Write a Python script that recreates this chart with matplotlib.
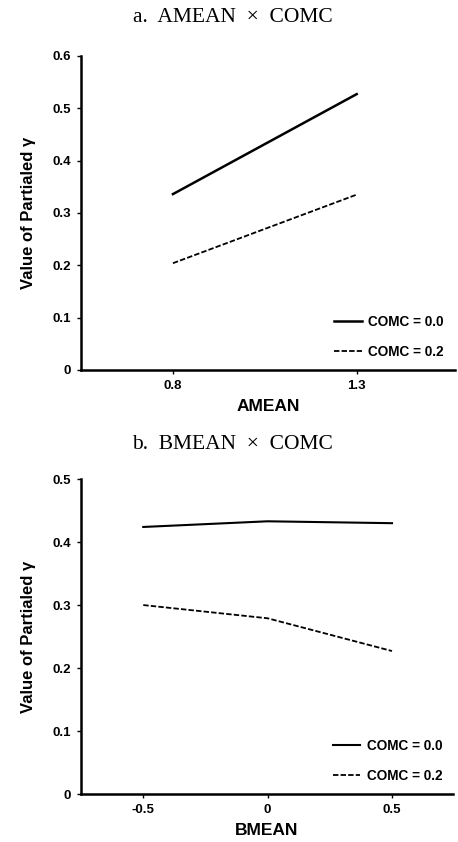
import matplotlib
matplotlib.use("Agg")
import matplotlib.pyplot as plt

# panel a: AMEAN x COMC
amean = [0.8, 1.3]
a_comc00 = [0.336, 0.527]
a_comc02 = [0.204, 0.335]

# panel b: BMEAN x COMC
bmean = [-0.5, 0.0, 0.5]
b_comc00 = [0.424, 0.433, 0.430]
b_comc02 = [0.300, 0.279, 0.227]

series_labels = ["COMC = 0.0", "COMC = 0.2"]

plt.rcParams["font.family"] = ["Liberation Sans", "DejaVu Sans"]
plt.rcParams["font.weight"] = "bold"

fig = plt.figure(figsize=(4.58, 8.42), dpi=100)
ax_a = fig.add_axes([0.177, 0.5606, 0.816, 0.373])
ax_b = fig.add_axes([0.177, 0.057, 0.812, 0.374])

dash = (0, (3.0, 1.2))


def style_axes(ax):
    for side in ["top", "right"]:
        ax.spines[side].set_visible(False)
    for side in ["left", "bottom"]:
        ax.spines[side].set_linewidth(1.8)
    ax.tick_params(direction="out", length=3, width=1.0, labelsize=9.5, pad=4)
    for lab in ax.get_xticklabels() + ax.get_yticklabels():
        lab.set_fontweight("bold")
    ax.set_ylabel("Value of Partialed \u03b3", fontsize=12, fontweight="bold", labelpad=12)


def add_legend(ax):
    ax.legend(loc="lower right", frameon=False, handlelength=2.0,
              handletextpad=0.5, labelspacing=1.2, borderaxespad=0.4,
              prop={"weight": "bold", "size": 9.8})


# a. AMEAN x COMC
ax_a.plot(amean, a_comc00, color="black", lw=1.8, label=series_labels[0])
ax_a.plot(amean, a_comc02, color="black", lw=1.3, linestyle=dash, label=series_labels[1])
ax_a.set_xlim(0.55, 1.567)
ax_a.set_ylim(0, 0.6)
ax_a.set_xticks(amean)
ax_a.set_xticklabels(["0.8", "1.3"])
ax_a.set_yticks([0, 0.1, 0.2, 0.3, 0.4, 0.5, 0.6])
ax_a.set_yticklabels(["0", "0.1", "0.2", "0.3", "0.4", "0.5", "0.6"])
style_axes(ax_a)
ax_a.set_xlabel("AMEAN", fontsize=12.5, fontweight="bold", labelpad=5)
add_legend(ax_a)
fig.text(0.508, 0.979, "a.  AMEAN  \u00d7  COMC", ha="center", va="center",
         fontsize=15.5, family="Liberation Serif", fontweight="normal")

# b. BMEAN x COMC
ax_b.plot(bmean, b_comc00, color="black", lw=1.5, label=series_labels[0])
ax_b.plot(bmean, b_comc02, color="black", lw=1.3, linestyle=dash, label=series_labels[1])
ax_b.set_xlim(-0.75, 0.745)
ax_b.set_ylim(0, 0.5)
ax_b.set_xticks(bmean)
ax_b.set_xticklabels(["-0.5", "0", "0.5"])
ax_b.set_yticks([0, 0.1, 0.2, 0.3, 0.4, 0.5])
ax_b.set_yticklabels(["0", "0.1", "0.2", "0.3", "0.4", "0.5"])
style_axes(ax_b)
ax_b.set_xlabel("BMEAN", fontsize=12.5, fontweight="bold", labelpad=5)
add_legend(ax_b)
fig.text(0.508, 0.4715, "b.  BMEAN  \u00d7  COMC", ha="center", va="center",
         fontsize=15.5, family="Liberation Serif", fontweight="normal")

fig.savefig("out.png", dpi=100, facecolor="white")
